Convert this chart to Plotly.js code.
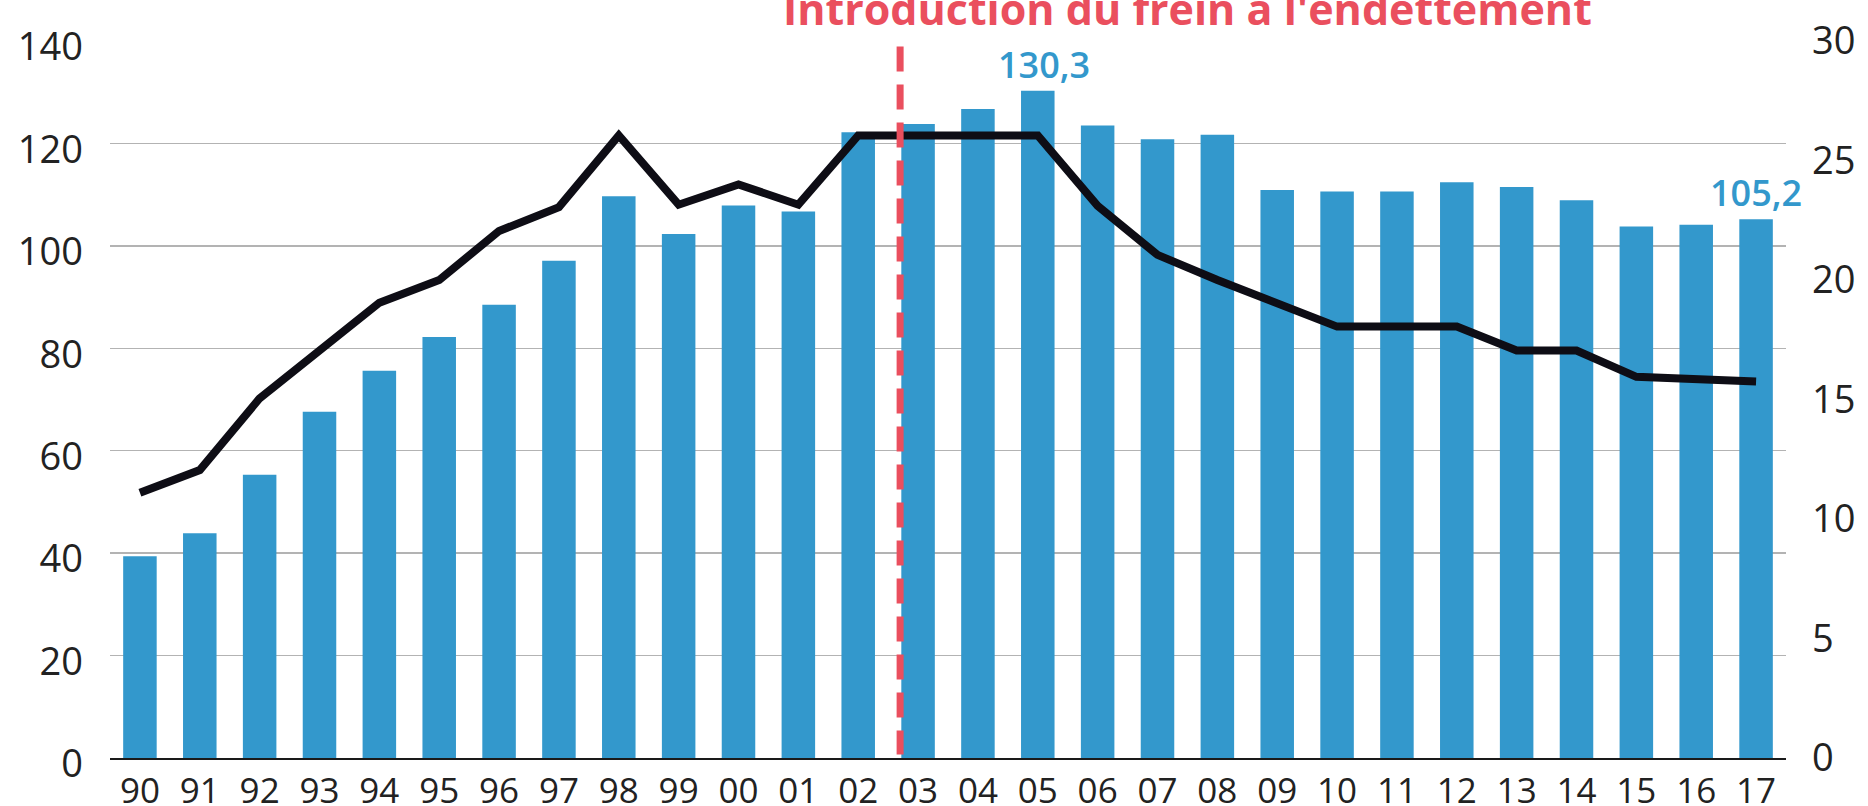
<!DOCTYPE html>
<html>
<head>
<meta charset="utf-8">
<script src="https://cdn.plot.ly/plotly-3.0.1.min.js"></script>
<style>
  html, body { margin: 0; padding: 0; background: #fff; }
  #chart { width: 1868px; height: 806px; }
</style>
</head>
<body>
<div id="chart"></div>
<script>
const years = ["90","91","92","93","94","95","96","97","98","99","00","01","02","03","04","05","06","07","08","09","10","11","12","13","14","15","16","17"];
const debtBn = [39.4, 43.9, 55.3, 67.6, 75.6, 82.2, 88.5, 97.1, 109.7, 102.3, 107.9, 106.7, 122.2, 123.8, 126.7, 130.3, 123.5, 120.8, 121.7, 110.9, 110.6, 110.6, 112.4, 111.5, 108.9, 103.8, 104.1, 105.2];
const debtRatio = [11.1, 12.05, 15.05, 17.0, 19.05, 20.0, 22.05, 23.05, 26.05, 23.15, 24.0, 23.15, 26.05, 26.05, 26.05, 26.05, 23.1, 21.05, 20.0, 19.0, 18.05, 18.05, 18.05, 17.05, 17.05, 15.95, 15.85, 15.75];
const leftTicks = [0, 20, 40, 60, 80, 100, 120, 140];
const rightTicks = [0, 5, 10, 15, 20, 25, 30];
const labelledYears = ["05", "17"];
const titleText = "Introduction du frein à l'endettement";
const brakePos = 12.7; // between 02 and 03 (category index)

const blue = "#3398cc";
const red = "#ea4f5e";
const font = "Open Sans, Noto Sans, sans-serif";

const traces = [
  {
    type: "bar",
    x: years,
    y: debtBn,
    marker: { color: blue },
    yaxis: "y",
    hoverinfo: "x+y"
  },
  {
    type: "scatter",
    mode: "lines",
    x: years,
    y: debtRatio,
    yaxis: "y2",
    line: { color: "#0e0d15", width: 8 },
    hoverinfo: "x+y"
  }
];

const annotations = labelledYears.map(function (yr) {
  const i = years.indexOf(yr);
  return {
    x: i, y: debtBn[i], xref: "x", yref: "y",
    text: debtBn[i].toFixed(1).replace(".", ","),
    showarrow: false, yanchor: "bottom", xanchor: "center",
    xshift: yr === "05" ? 6 : 0,
    font: { family: font, size: 36, color: blue, weight: 600 }
  };
});
annotations.push({
  x: 0.643, y: 1.002, xref: "paper", yref: "paper",
  text: titleText, showarrow: false, xanchor: "center", yanchor: "bottom",
  font: { family: font, size: 43, color: red, weight: 700 }
});

const layout = {
  width: 1868, height: 806,
  margin: { l: 110, r: 82, t: 41, b: 48 },
  paper_bgcolor: "#fff", plot_bgcolor: "#fff",
  showlegend: false,
  bargap: 0.44,
  font: { family: font, color: "#222" },
  xaxis: {
    type: "category",
    range: [-0.5, years.length - 0.5],
    tickfont: { family: font, size: 35, color: "#222" },
    ticks: "", ticklabelstandoff: 1,
    showline: true, linecolor: "#1a1a1a", linewidth: 1.5,
    showgrid: false, zeroline: false, fixedrange: true
  },
  yaxis: {
    range: [0, 140],
    tickvals: leftTicks,
    tickfont: { family: font, size: 38, color: "#222" },
    ticks: "", ticklabelstandoff: 26, ticklabelshift: 6,
    showgrid: true, gridcolor: "#b3b3b3", gridwidth: 1.3,
    zeroline: false, showline: false, fixedrange: true
  },
  yaxis2: {
    overlaying: "y", side: "right",
    range: [0, 30],
    tickvals: rightTicks,
    ticktext: rightTicks.map(function (v) { return "\u2002" + v; }),
    tickfont: { family: font, size: 38, color: "#222" },
    ticks: "", ticklabelstandoff: 6,
    showgrid: false, zeroline: false, showline: false, fixedrange: true
  },
  shapes: [
    {
      type: "line", xref: "x", yref: "paper",
      x0: brakePos, x1: brakePos, y0: 0.9925, y1: 0.005,
      line: { color: red, width: 7, dash: "25px,13px" },
      layer: "above"
    }
  ],
  annotations: annotations
};

Plotly.newPlot("chart", traces, layout, { displayModeBar: false, staticPlot: true });
</script>
</body>
</html>
